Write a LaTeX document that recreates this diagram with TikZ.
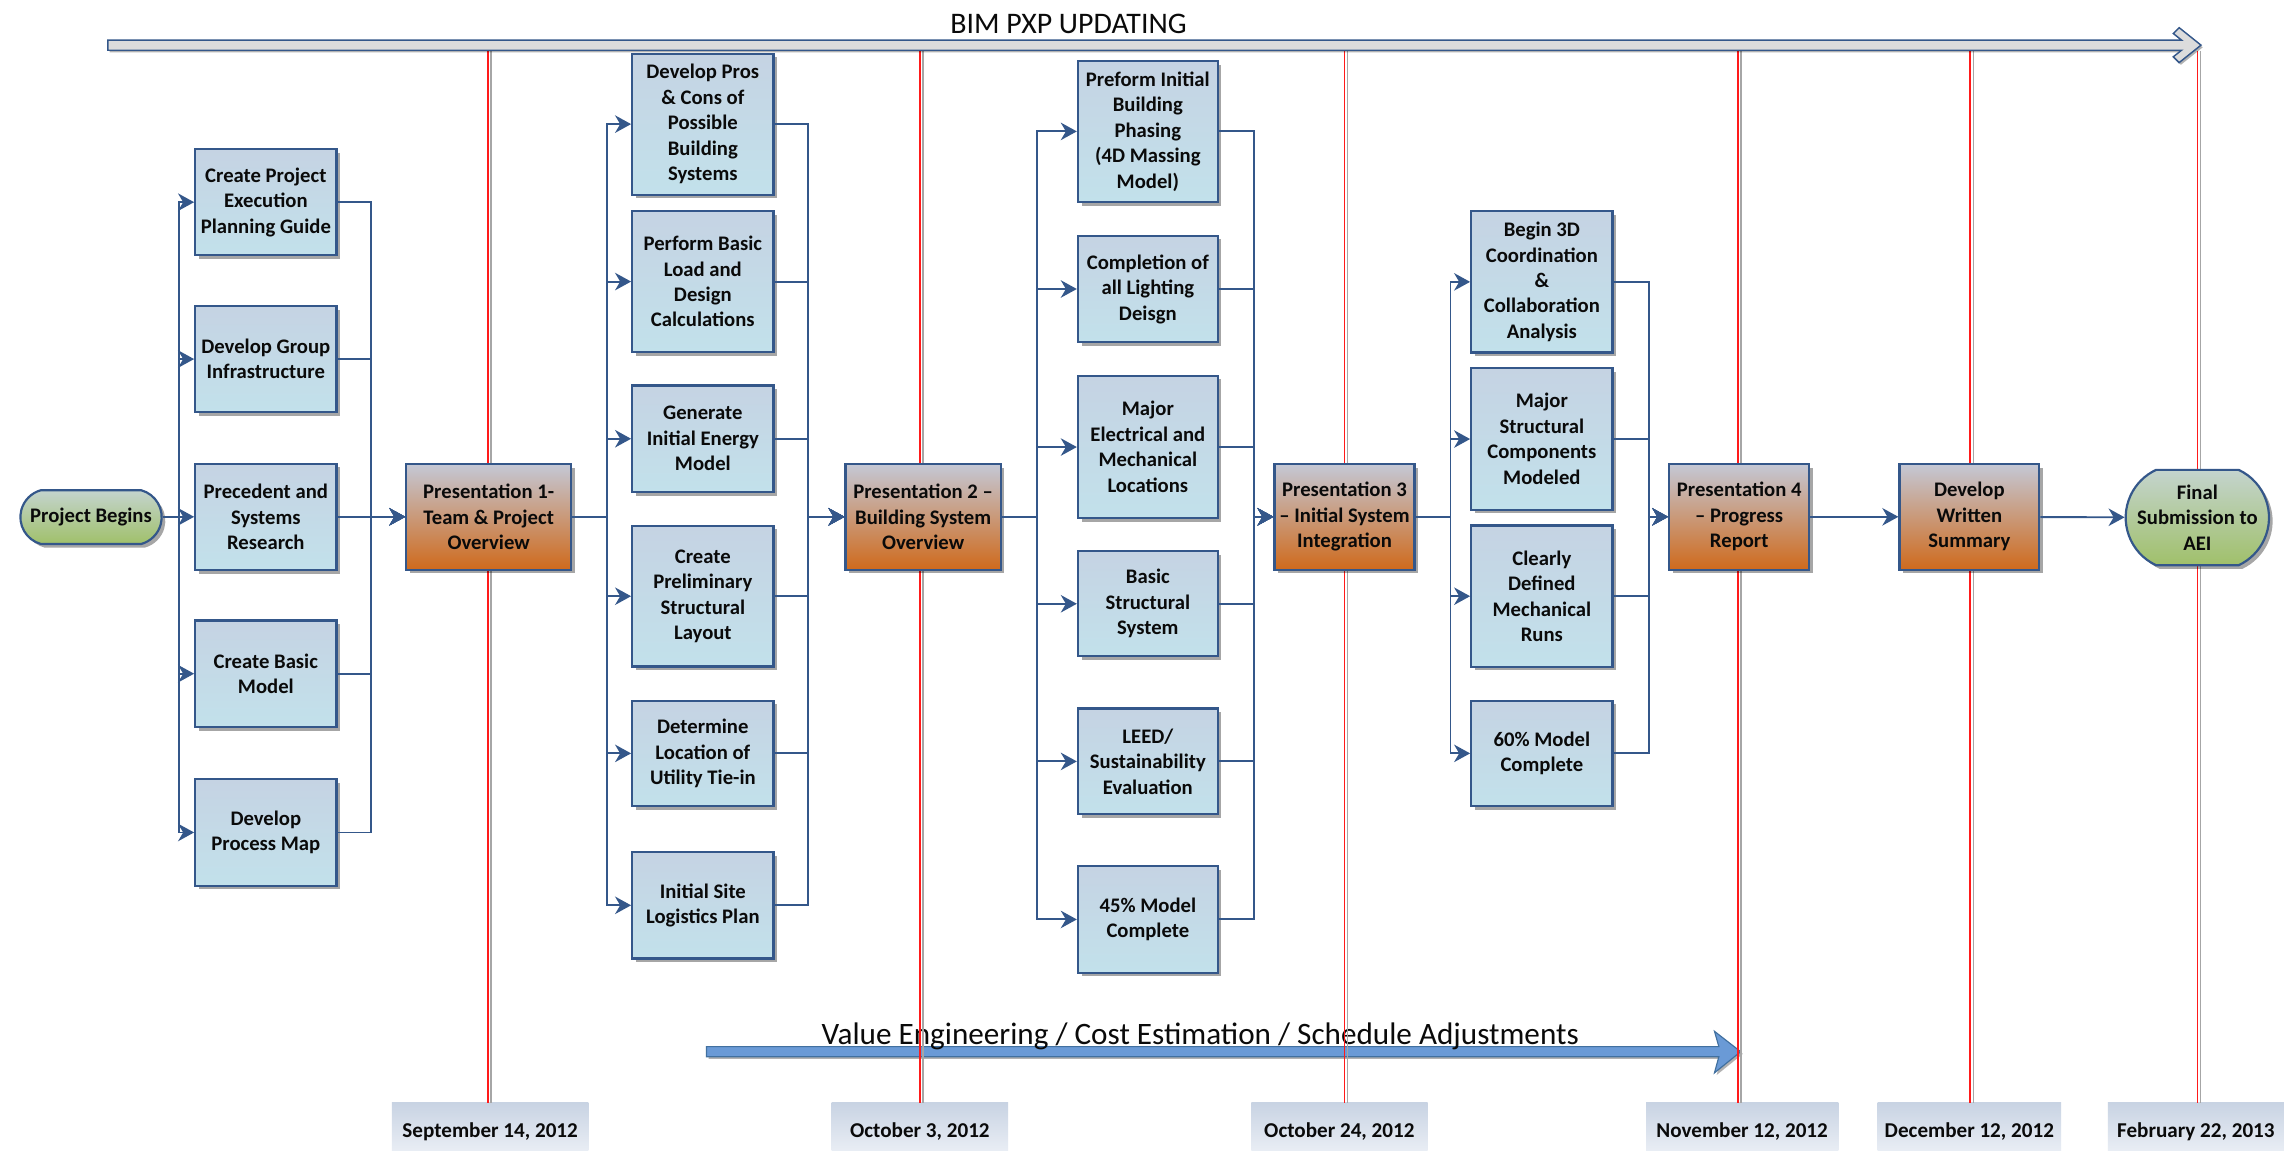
\documentclass[tikz,border=0pt]{standalone}
\usepackage{fontspec}
\setmainfont{Carlito}
\usetikzlibrary{arrows.meta,shadows,shapes.misc}

\definecolor{bdr}{HTML}{34578A}
\definecolor{boxtop}{HTML}{C5D3E3}
\definecolor{boxbot}{HTML}{C2E1EB}
\definecolor{prestop}{HTML}{C4C8D6}
\definecolor{presbot}{HTML}{CF6A1C}
\definecolor{termtop}{HTML}{C4D4CE}
\definecolor{termbot}{HTML}{A0C06A}
\definecolor{datetop}{HTML}{C8D3E3}
\definecolor{datebot}{HTML}{F0F3F8}
\definecolor{veblue}{HTML}{6A9AD6}
\definecolor{veedge}{HTML}{41709F}
\definecolor{barfill}{HTML}{DCDCDC}
\definecolor{txt}{HTML}{0A0A0A}
\definecolor{msred}{HTML}{FF1A1A}

\begin{document}
\begin{tikzpicture}[x=1pt,y=-1pt,
  every node/.style={text=txt},
  boxshadow/.style={drop shadow={shadow xshift=2.5pt,shadow yshift=-2.5pt,fill=black,opacity=0.35}},
  task/.style={draw=bdr,line width=1.5pt,top color=boxtop,bottom color=boxbot,boxshadow,
    align=center,inner sep=0pt,minimum width=97pt,minimum height=73pt,
    font=\bfseries\fontsize{14.2}{17.5}\selectfont},
  pres/.style={task,top color=prestop,bottom color=presbot,minimum height=72.5pt},
  term/.style={task,rounded rectangle,rounded rectangle arc length=130,top color=termtop,bottom color=termbot},
  datebox/.style={top color=datetop,bottom color=datebot,inner sep=0pt,minimum height=40pt,
    font=\bfseries\fontsize{14.5}{17}\selectfont},
  link/.style={draw=bdr,line width=1.3pt,-{Stealth[length=11pt,width=12pt,inset=3.5pt]}},
]
\useasboundingbox (0,0) rectangle (1568,790);
\fill[white] (0,0) rectangle (1568,790);

% milestone date labels
\node[datebox,minimum width=135pt] (d1) at (336.5,777) {September 14, 2012};
\node[datebox,minimum width=121pt] (d2) at (631.5,777) {October 3, 2012};
\node[datebox,minimum width=121pt] (d3) at (919.5,777) {October 24, 2012};
\node[datebox,minimum width=132pt] (d4) at (1196,777) {November 12, 2012};
\node[datebox,minimum width=126pt] (d5) at (1352,777) {December 12, 2012};
\node[datebox,minimum width=121pt] (d6) at (1507.5,777) {February 22, 2013};

% value engineering band
\filldraw[fill=veblue,draw=veedge,line width=0.8pt,
  drop shadow={shadow xshift=1.5pt,shadow yshift=-1.5pt,fill=black,opacity=0.3}]
  (485,718.5) -- (1180,718.5) -- (1177,708) -- (1195,722) -- (1177,736.5)
  -- (1180,725.5) -- (485,725.5) -- cycle;
\node[font=\fontsize{21.4}{25}\selectfont,anchor=base] (ve) at (824,717)
  {Value Engineering / Cost Estimation / Schedule Adjustments};

% milestone lines
\foreach \mx in {335,631.5,923,1193,1352.5,1508.5}{
  \draw[black!35,line width=1pt] (\mx+2.2,35) -- (\mx+2.2,757);
  \draw[msred,line width=1pt] (\mx,35) -- (\mx,757);
}

% BIM PXP updating band
\filldraw[fill=barfill,draw=bdr,line width=1pt,
  drop shadow={shadow xshift=1.2pt,shadow yshift=-1.5pt,fill=black,opacity=0.3}]
  (74,27.5) -- (1497.6,27.5) -- (1492,23) -- (1496,19) -- (1511,31)
  -- (1496,43) -- (1492,39) -- (1497.6,34.5) -- (74,34.5) -- cycle;
\node[font=\fontsize{20.5}{24}\selectfont,anchor=base] (title) at (733.5,23) {BIM PXP UPDATING};

% start and end
\node[term,minimum height=37pt,rounded rectangle arc length=150] (pb) at (62.5,355) {Project Begins};
\node[term,minimum height=65.5pt] (fin) at (1508.5,355.3) {Final\\Submission to\\AEI};

% column 1
\node[task] (c1a) at (182.5,138.8) {Create Project\\Execution\\Planning Guide};
\node[task] (c1b) at (182.5,246.5) {Develop Group\\Infrastructure};
\node[task] (c1c) at (182.5,354.8) {Precedent and\\Systems\\Research};
\node[task] (c1d) at (182.5,462.5) {Create Basic\\Model};
\node[task] (c1e) at (182.5,571.5) {Develop\\Process Map};

% column 2
\node[task,minimum height=96.8pt] (c2a) at (482.5,85.2) {Develop Pros\\\& Cons of\\Possible\\Building\\Systems};
\node[task,minimum height=97pt] (c2b) at (482.5,193.3) {Perform Basic\\Load and\\Design\\Calculations};
\node[task] (c2c) at (482.5,301.2) {Generate\\Initial Energy\\Model};
\node[task,minimum height=96.6pt] (c2d) at (482.5,409.3) {Create\\Preliminary\\Structural\\Layout};
\node[task,minimum height=72.4pt] (c2e) at (482.5,517.2) {Determine\\Location of\\Utility Tie-in};
\node[task] (c2f) at (482.5,621.5) {Initial Site\\Logistics Plan};

% column 3
\node[task,minimum width=96pt,minimum height=96.8pt] (c3a) at (788,90.2) {Preform Initial\\Building\\Phasing\\(4D Massing\\Model)};
\node[task,minimum width=96pt] (c3b) at (788,198.4) {Completion of\\all Lighting\\Deisgn};
\node[task,minimum width=96pt,minimum height=97.8pt] (c3c) at (788,306.9) {Major\\Electrical and\\Mechanical\\Locations};
\node[task,minimum width=96pt,minimum height=72pt] (c3d) at (788,414.5) {Basic\\Structural\\System};
\node[task,minimum width=96pt,minimum height=72.6pt] (c3e) at (788,522.7) {LEED/\\Sustainability\\Evaluation};
\node[task,minimum width=96pt] (c3f) at (788,631.2) {45\% Model\\Complete};

% column 4
\node[task,minimum height=97pt] (c4a) at (1058.5,193.5) {Begin 3D\\Coordination\\\&\\Collaboration\\Analysis};
\node[task,minimum height=97pt] (c4b) at (1058.5,301.4) {Major\\Structural\\Components\\Modeled};
\node[task,minimum height=97pt] (c4c) at (1058.5,409.3) {Clearly\\Defined\\Mechanical\\Runs};
\node[task,minimum height=72.4pt] (c4d) at (1058.5,517.2) {60\% Model\\Complete};

% presentations and summary
\node[pres,minimum width=113pt] (p1) at (335.5,354.8) {Presentation 1-\\Team \& Project\\Overview};
\node[pres,minimum width=106.5pt] (p2) at (633.75,354.8) {Presentation 2 –\\Building System\\Overview};
\node[pres,minimum width=96pt] (p3) at (923,354.8) {Presentation 3\\– Initial System\\Integration};
\node[pres,minimum width=96pt] (p4) at (1194,354.8) {Presentation 4\\– Progress\\Report};
\node[pres,minimum width=96pt] (ws) at (1352,354.8) {Develop\\Written\\Summary};

% fan-out / fan-in connectors
\foreach \t in {c1a,c1b,c1c,c1d,c1e}{
  \draw[link] (pb.east) -- ++(11,0) |- (\t.west);
  \draw[link] (\t.east) -- ++(23,0) |- (p1.west);
}
\foreach \t in {c2a,c2b,c2c,c2d,c2e,c2f}{
  \draw[link] (p1.east) -- ++(24,0) |- (\t.west);
  \draw[link] (\t.east) -- ++(23,0) |- (p2.west);
}
\foreach \t in {c3a,c3b,c3c,c3d,c3e,c3f}{
  \draw[link] (p2.east) -- ++(24,0) |- (\t.west);
  \draw[link] (\t.east) -- ++(24,0) |- (p3.west);
}
\foreach \t in {c4a,c4b,c4c,c4d}{
  \draw[link] (p3.east) -- ++(24,0) |- (\t.west);
  \draw[link] (\t.east) -- ++(24,0) |- (p4.west);
}
\draw[link] (p4) -- (ws);
\draw[link] (ws) -- (fin);
\end{tikzpicture}
\end{document}
